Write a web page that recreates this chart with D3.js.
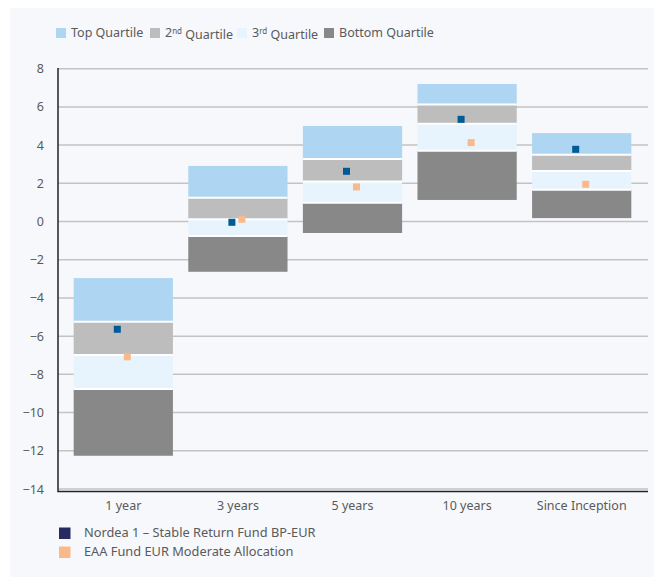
<!DOCTYPE html>
<html>
<head>
<meta charset="utf-8">
<script src="https://cdn.jsdelivr.net/npm/d3@7"></script>
<style>
  body { margin: 0; background: #fff; }
  text { font-family: "Noto Sans", "Open Sans", sans-serif; }
</style>
</head>
<body>
<script>
var width = 654,
    height = 577;

// periods on the x axis
var periods = ["1 year", "3 years", "5 years", "10 years", "Since Inception"];
// quartile boundaries, top edge of each band going down, then the bottom edge
var q0 = [-2.96, 2.91, 5.0, 7.2, 4.63];     // top of Top Quartile
var q1 = [-5.25, 1.25, 3.27, 6.12, 3.5];    // top / 2nd
var q2 = [-6.99, 0.12, 2.1, 5.12, 2.64];    // 2nd / 3rd
var q3 = [-8.77, -0.76, 0.98, 3.71, 1.66];  // 3rd / bottom
var q4 = [-12.26, -2.63, -0.6, 1.13, 0.18]; // bottom of Bottom Quartile
var fund = [-5.64, -0.04, 2.63, 5.35, 3.78];
var peers = [-7.08, 0.12, 1.81, 4.13, 1.95];
var yTicks = [8, 6, 4, 2, 0, -2, -4, -6, -8, -10, -12, -14];

var quartiles = [
  {name: "Top Quartile", sup: null, color: "#aed6f3"},
  {name: "2", sup: "nd", rest: " Quartile", color: "#bdbdbd"},
  {name: "3", sup: "rd", rest: " Quartile", color: "#e7f4fd"},
  {name: "Bottom Quartile", sup: null, color: "#888888"}
];

var svg = d3.select("body").append("svg")
    .attr("width", width)
    .attr("height", height);

svg.append("rect")
    .attr("x", 10).attr("y", 8)
    .attr("width", width - 10).attr("height", height - 8)
    .attr("fill", "#f6f8fc");

var x = d3.scaleBand()
    .domain(periods)
    .range([66, 639])
    .paddingInner(0.134)
    .paddingOuter(0.067);

var y = d3.scaleLinear()
    .domain([-14, 8])
    .range([489, 68.7]);

// gridlines
svg.append("g")
    .selectAll("line")
    .data(yTicks)
    .enter().append("line")
    .attr("x1", 58).attr("x2", 648)
    .attr("y1", function(d) { return y(d); })
    .attr("y2", function(d) { return y(d); })
    .attr("stroke", "#c3c3c3")
    .attr("stroke-width", 1.5);

// y axis labels
var yAxis = d3.axisLeft(y)
    .tickValues(yTicks)
    .tickSize(0)
    .tickPadding(0);
var gy = svg.append("g")
    .attr("transform", "translate(44,0)")
    .call(yAxis);
gy.select(".domain").remove();
gy.selectAll("text")
    .attr("fill", "#5a5a5a")
    .style("font-size", "12.5px");

// quartile bars
var bands = [q0, q1, q2, q3, q4];
var bars = svg.append("g");
periods.forEach(function(p, i) {
  for (var k = 0; k < 4; k++) {
    var top = bands[k][i], bot = bands[k + 1][i];
    bars.append("rect")
        .attr("x", x(p))
        .attr("width", x.bandwidth())
        .attr("y", y(top))
        .attr("height", y(bot) - y(top))
        .attr("fill", quartiles[k].color);
  }
  for (var k = 1; k < 4; k++) {
    bars.append("line")
        .attr("x1", x(p)).attr("x2", x(p) + x.bandwidth())
        .attr("y1", y(bands[k][i])).attr("y2", y(bands[k][i]))
        .attr("stroke", "#fff")
        .attr("stroke-width", 2);
  }
});

// markers
var ms = 7;
svg.append("g").selectAll("rect")
    .data(periods)
    .enter().append("rect")
    .attr("x", function(d) { return x(d) + x.bandwidth() / 2 - 6 - ms / 2; })
    .attr("y", function(d, i) { return y(fund[i]) - ms / 2; })
    .attr("width", ms).attr("height", ms)
    .attr("fill", "#005a94");
svg.append("g").selectAll("rect")
    .data(periods)
    .enter().append("rect")
    .attr("x", function(d) { return x(d) + x.bandwidth() / 2 + 4 - ms / 2; })
    .attr("y", function(d, i) { return y(peers[i]) - ms / 2; })
    .attr("width", ms).attr("height", ms)
    .attr("fill", "#f9b98b");

// x axis labels
var xAxis = d3.axisBottom(x).tickSize(0).tickPadding(0);
var gx = svg.append("g")
    .attr("transform", "translate(0,506)")
    .call(xAxis);
gx.select(".domain").remove();
gx.selectAll("text")
    .attr("dy", "0.35em")
    .attr("fill", "#5a5a5a")
    .style("font-size", "12.5px");

// axis frame
svg.append("path")
    .attr("d", "M58,68V491.5H648")
    .attr("fill", "none")
    .attr("stroke", "#222")
    .attr("stroke-width", 1.5);

// top legend
var legX = [56, 150, 237, 324];
var lg = svg.append("g");
quartiles.forEach(function(q, i) {
  lg.append("rect")
      .attr("x", legX[i]).attr("y", 28)
      .attr("width", 10).attr("height", 10)
      .attr("fill", q.color);
  var t = lg.append("text")
      .attr("x", legX[i] + 15).attr("y", 33)
      .attr("dy", "0.35em")
      .attr("fill", "#5a5a5a")
      .style("font-size", "12.5px");
  if (q.sup) {
    t.append("tspan").text(q.name);
    t.append("tspan").attr("dy", "-0.4em").style("font-size", "8px").text(q.sup);
    t.append("tspan").attr("dy", "0.4em").text(q.rest);
  } else {
    t.text(q.name);
  }
});

// bottom legend
var series = [
  {name: "Nordea 1 \u2013 Stable Return Fund BP-EUR", color: "#262b63"},
  {name: "EAA Fund EUR Moderate Allocation", color: "#f9b98b"}
];
var bl = svg.append("g");
series.forEach(function(s, i) {
  bl.append("rect")
      .attr("x", 59).attr("y", 527.5 + i * 19)
      .attr("width", 11.5).attr("height", 11.5)
      .attr("fill", s.color);
  bl.append("text")
      .attr("x", 84).attr("y", 532.5 + i * 19)
      .attr("dy", "0.35em")
      .attr("fill", "#5a5a5a")
      .style("font-size", "12.8px")
      .text(s.name);
});
</script>
</body>
</html>
